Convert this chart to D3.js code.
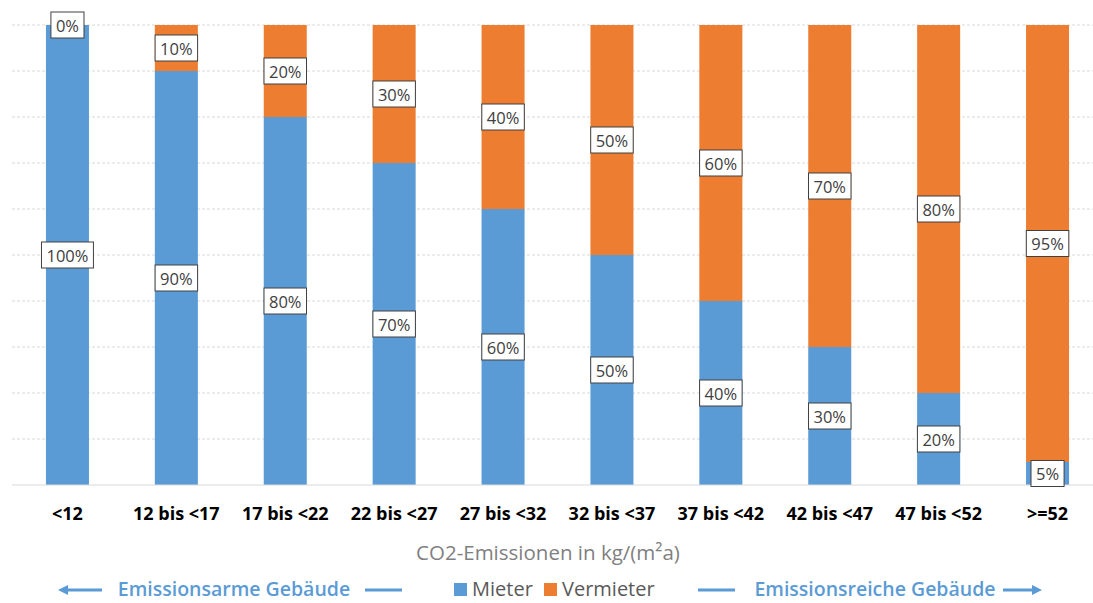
<!DOCTYPE html>
<html>
<head>
<meta charset="utf-8">
<script src="https://cdn.jsdelivr.net/npm/d3@7"></script>
<style>
  html, body { margin: 0; padding: 0; background: #ffffff; }
  svg { display: block; }
</style>
</head>
<body>
<svg id="chart" width="1093" height="603"></svg>
<script>
// Emission classes (kg CO2 per m² and year)
const categories = ["<12", "12 bis <17", "17 bis <22", "22 bis <27", "27 bis <32",
                    "32 bis <37", "37 bis <42", "42 bis <47", "47 bis <52", ">=52"];
// Share of cost borne by tenants (Mieter) and landlords (Vermieter), in %
const mieter    = [100, 90, 80, 70, 60, 50, 40, 30, 20, 5];
const vermieter = [0, 10, 20, 30, 40, 50, 60, 70, 80, 95];
const seriesNames = ["Mieter", "Vermieter"];
const yTicks = [0, 10, 20, 30, 40, 50, 60, 70, 80, 90, 100];

const colors = { Mieter: "#5b9bd5", Vermieter: "#ed7d31" };
const font = "'Open Sans', 'Noto Sans', sans-serif";

const svg = d3.select("#chart");
const plotTop = 25, plotBottom = 485;

const x = d3.scaleBand().domain(categories).range([13, 1102]).paddingInner(0.605).paddingOuter(0.3025);
const y = d3.scaleLinear().domain([0, 100]).range([plotBottom, plotTop]);

// Gridlines
svg.append("g").selectAll("line").data(yTicks.filter(d => d > 0)).join("line")
  .attr("x1", 12).attr("x2", 1093)
  .attr("y1", d => y(d)).attr("y2", d => y(d))
  .attr("stroke", "#d9d9d9").attr("stroke-width", 1).attr("stroke-dasharray", "3,2");

// Stacked data
const rows = categories.map((c, i) => ({ cat: c, Mieter: mieter[i], Vermieter: vermieter[i] }));
const stacked = d3.stack().keys(seriesNames)(rows);

const layers = svg.append("g").selectAll("g").data(stacked).join("g")
  .attr("fill", d => colors[d.key]);
layers.selectAll("rect").data(d => d).join("rect")
  .attr("x", d => x(d.data.cat))
  .attr("width", x.bandwidth())
  .attr("y", d => y(d[1]))
  .attr("height", d => y(d[0]) - y(d[1]));

// Baseline
svg.append("line").attr("x1", 12).attr("x2", 1093).attr("y1", plotBottom).attr("y2", plotBottom)
  .attr("stroke", "#d9d9d9").attr("stroke-width", 1.2);

// Value labels in boxes
const labelG = svg.append("g");
stacked.forEach(layer => {
  layer.forEach(d => {
    const cx = x(d.data.cat) + x.bandwidth() / 2;
    const cy = (y(d[0]) + y(d[1])) / 2;
    const g = labelG.append("g");
    const t = g.append("text")
      .attr("x", cx).attr("y", cy)
      .attr("text-anchor", "middle").attr("dominant-baseline", "central")
      .attr("font-family", font).attr("font-size", 16.5).attr("fill", "#404040")
      .text(d.data[layer.key] + "%");
    const bb = t.node().getBBox();
    g.insert("rect", "text")
      .attr("x", cx - bb.width / 2 - 5).attr("y", cy - 13)
      .attr("width", bb.width + 10).attr("height", 26)
      .attr("fill", "#ffffff").attr("stroke", "#404040").attr("stroke-width", 1);
  });
});

// Category axis
const xAxis = svg.append("g").attr("transform", `translate(0,${plotBottom})`)
  .call(d3.axisBottom(x).tickSize(0).tickPadding(22));
xAxis.select(".domain").remove();
xAxis.selectAll("text").attr("font-family", font).attr("font-size", 18)
  .attr("font-weight", "bold").attr("fill", "#000000");

// Axis title
svg.append("text").attr("x", 548).attr("y", 552).attr("text-anchor", "middle")
  .attr("dominant-baseline", "central")
  .attr("font-family", font).attr("font-size", 20.5).attr("fill", "#7f7f7f")
  .text("CO2-Emissionen in kg/(m²a)");

// Legend
const legendY = 588;
const leg = svg.append("g");
const legItems = [{ name: "Mieter", x: 454 }, { name: "Vermieter", x: 544 }];
legItems.forEach(it => {
  leg.append("rect").attr("x", it.x).attr("y", legendY - 5).attr("width", 13).attr("height", 13)
    .attr("fill", colors[it.name]);
  leg.append("text").attr("x", it.x + 18).attr("y", legendY).attr("dominant-baseline", "central")
    .attr("font-family", font).attr("font-size", 20).attr("fill", "#595959").text(it.name);
});

// Direction hints
const blue = "#5b9bd5";
const hint = svg.append("g");
function arrow(x1, x2, head) {
  const yy = legendY + 2;
  hint.append("line").attr("x1", x1).attr("x2", x2).attr("y1", yy).attr("y2", yy)
    .attr("stroke", blue).attr("stroke-width", 3);
  if (head) {
    const dir = x2 > x1 ? 1 : -1;
    hint.append("path")
      .attr("d", `M${x2 + dir * 6},${yy} L${x2 - dir * 4},${yy - 5} L${x2 - dir * 4},${yy + 5} Z`)
      .attr("fill", blue);
  }
}
arrow(102, 64, true);
arrow(365, 402, false);
arrow(698, 735, false);
arrow(1003, 1036, true);
hint.append("text").attr("x", 234).attr("y", legendY).attr("text-anchor", "middle")
  .attr("dominant-baseline", "central").attr("font-family", font).attr("font-size", 19.5)
  .attr("font-weight", 600).attr("fill", blue).text("Emissionsarme Gebäude");
hint.append("text").attr("x", 875).attr("y", legendY).attr("text-anchor", "middle")
  .attr("dominant-baseline", "central").attr("font-family", font).attr("font-size", 19.5)
  .attr("font-weight", 600).attr("fill", blue).text("Emissionsreiche Gebäude");
</script>
</body>
</html>
